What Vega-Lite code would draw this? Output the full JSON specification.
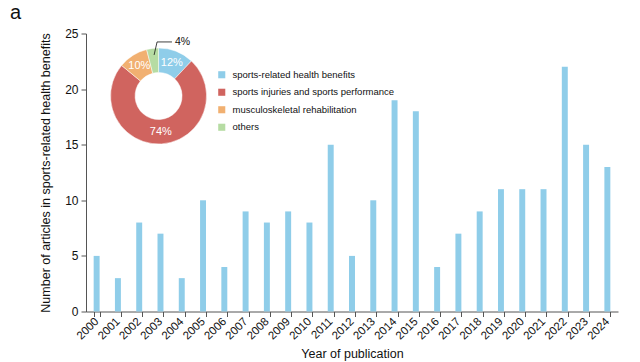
{
  "$schema": "https://vega.github.io/schema/vega-lite/v6.json",
  "autosize": {"type": "none"},
  "padding": {"left": 86, "top": 33.5, "right": 22, "bottom": 50.5},
  "width": 532,
  "height": 278,
  "background": "white",
  "config": {
    "font": "Liberation Sans",
    "view": {"stroke": null},
    "axis": {"grid": false, "domainColor": "#555555", "tickColor": "#555555", "labelColor": "#111111", "titleColor": "#111111", "titleFontWeight": "normal", "labelFont": "Liberation Sans", "titleFont": "Liberation Sans"}
  },
  "title": {"text": "a", "anchor": "start", "frame": "group", "fontSize": 20, "fontWeight": "normal", "color": "#111111", "dx": -76, "offset": 5, "baseline": "top"},
  "datasets": {
    "years": [
      {"year": "2000", "n": 5}, {"year": "2001", "n": 3}, {"year": "2002", "n": 8}, {"year": "2003", "n": 7},
      {"year": "2004", "n": 3}, {"year": "2005", "n": 10}, {"year": "2006", "n": 4}, {"year": "2007", "n": 9},
      {"year": "2008", "n": 8}, {"year": "2009", "n": 9}, {"year": "2010", "n": 8}, {"year": "2011", "n": 15},
      {"year": "2012", "n": 5}, {"year": "2013", "n": 10}, {"year": "2014", "n": 19}, {"year": "2015", "n": 18},
      {"year": "2016", "n": 4}, {"year": "2017", "n": 7}, {"year": "2018", "n": 9}, {"year": "2019", "n": 11},
      {"year": "2020", "n": 11}, {"year": "2021", "n": 11}, {"year": "2022", "n": 22}, {"year": "2023", "n": 15},
      {"year": "2024", "n": 13}
    ],
    "share": [
      {"cat": "sports-related health benefits", "value": 12, "label": "12%", "ord": 1},
      {"cat": "sports injuries and sports performance", "value": 74, "label": "74%", "ord": 2},
      {"cat": "musculoskeletal rehabilitation", "value": 10, "label": "10%", "ord": 3},
      {"cat": "others", "value": 4, "label": "4%", "ord": 4}
    ]
  },
  "layer": [
    {
      "data": {"name": "years"},
      "mark": {"type": "bar", "color": "#8fcde9"},
      "encoding": {
        "x": {"field": "year", "type": "nominal", "sort": null,
              "scale": {"paddingInner": 0.72, "paddingOuter": 0.36},
              "axis": {"title": "Year of publication", "labelAngle": -45, "labelAlign": "right", "labelBaseline": "middle", "labelFontSize": 11.5, "titleFontSize": 12.5, "tickBand": "extent", "tickSize": 5, "labelPadding": 3, "titlePadding": 6}},
        "y": {"field": "n", "type": "quantitative",
              "scale": {"domain": [0, 25], "nice": false},
              "axis": {"title": "Number of articles in sports-related health benefits", "values": [0, 5, 10, 15, 20, 25], "labelFontSize": 12, "titleFontSize": 12.5, "tickSize": 5, "labelPadding": 3, "titlePadding": 12}}
      }
    },
    {
      "data": {"name": "share"},
      "encoding": {
        "theta": {"field": "value", "type": "quantitative", "stack": true},
        "order": {"field": "ord", "type": "quantitative"},
        "x": {"datum": 2002.91, "type": "quantitative", "scale": {"domain": [1999.5, 2024.5], "nice": false, "zero": false}, "axis": null},
        "y": {"datum": 19.38, "type": "quantitative"}
      },
      "layer": [
        {
          "mark": {"type": "arc", "innerRadius": 23.5, "outerRadius": 48, "stroke": "white", "strokeWidth": 0.5},
          "encoding": {
            "color": {"field": "cat", "type": "nominal",
                      "scale": {"domain": ["sports-related health benefits", "sports injuries and sports performance", "musculoskeletal rehabilitation", "others"],
                                "range": ["#8fcde9", "#d0645f", "#f1b071", "#b6dca3"]},
                      "legend": {"orient": "none", "legendX": 131, "legendY": 36.5, "title": null, "symbolType": "square", "symbolSize": 50, "symbolStrokeWidth": 0, "labelFontSize": 9.5, "labelColor": "#111111", "labelLimit": 400, "rowPadding": 6.5, "labelOffset": 6}}
          }
        },
        {
          "mark": {"type": "text", "radius": 36, "fontSize": 11, "align": "center", "baseline": "middle"},
          "encoding": {
            "detail": {"field": "cat", "type": "nominal"},
            "text": {"field": "label"},
            "color": {"value": "white"},
            "opacity": {"condition": {"test": "datum.cat === 'others'", "value": 0}, "value": 1}
          }
        }
      ]
    },
    {
      "data": {"values": [{}]},
      "mark": {"type": "rule", "color": "#111111", "strokeWidth": 0.8},
      "encoding": {
        "x": {"datum": 2002.70, "type": "quantitative", "scale": {"domain": [1999.5, 2024.5], "nice": false, "zero": false}, "axis": null},
        "x2": {"datum": 2002.84},
        "y": {"datum": 23.07, "type": "quantitative"},
        "y2": {"datum": 24.24}
      }
    },
    {
      "data": {"values": [{}]},
      "mark": {"type": "rule", "color": "#111111", "strokeWidth": 0.8},
      "encoding": {
        "x": {"datum": 2002.84, "type": "quantitative", "scale": {"domain": [1999.5, 2024.5], "nice": false, "zero": false}, "axis": null},
        "x2": {"datum": 2003.54},
        "y": {"datum": 24.24, "type": "quantitative"}
      }
    },
    {
      "data": {"values": [{}]},
      "mark": {"type": "text", "align": "left", "baseline": "middle", "fontSize": 10.5, "color": "#111111"},
      "encoding": {
        "x": {"datum": 2003.68, "type": "quantitative", "scale": {"domain": [1999.5, 2024.5], "nice": false, "zero": false}, "axis": null},
        "y": {"datum": 24.24, "type": "quantitative"},
        "text": {"value": "4%"}
      }
    }
  ],
  "resolve": {"scale": {"x": "independent"}}
}
